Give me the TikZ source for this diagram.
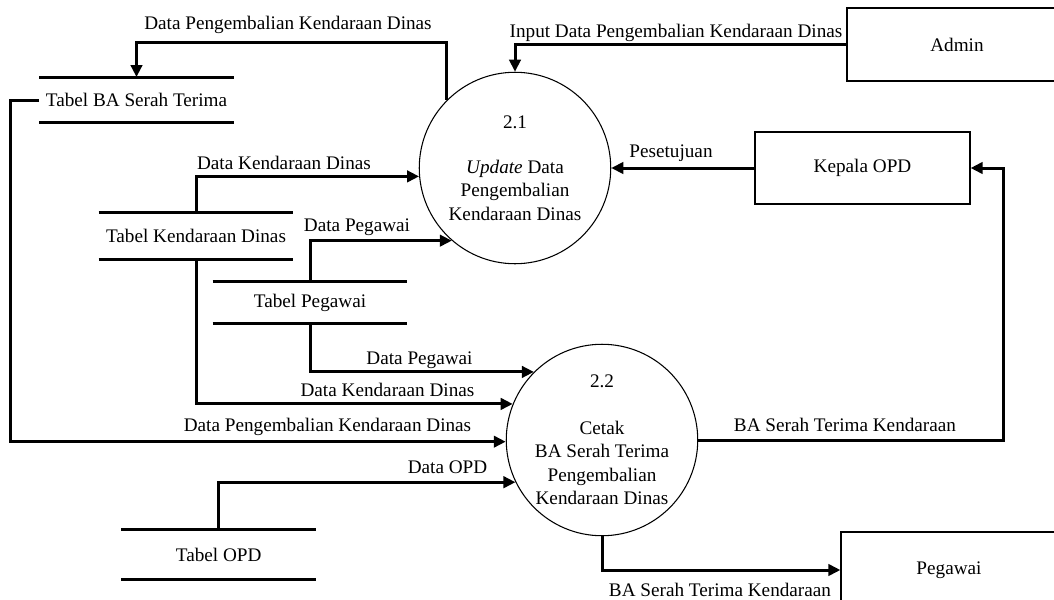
\documentclass[tikz,border=0pt]{standalone}
\usepackage{fontspec}
\setmainfont{Liberation Serif}
\usetikzlibrary{arrows.meta}
\begin{document}
\begin{tikzpicture}[x=0.75pt,y=-0.75pt,
  every node/.style={font=\fontsize{14.4pt}{17.6pt}\selectfont},
  flow/.style={line width=2.25pt, -{Triangle[length=9pt,width=8.5pt]}},
  storeline/.style={line width=2.25pt},
  process/.style={circle, draw, line width=0.8pt, minimum size=143.6pt, inner sep=0pt, align=center},
  entity/.style={rectangle, draw, line width=0.9pt, inner sep=0pt},
  datastore/.style={inner sep=0pt, minimum width=145.5pt},
  flowlabel/.style={inner sep=0pt}]

% canvas
\clip (0,0) rectangle (1054,600);
\fill[white] (0,0) rectangle (1054,600);

% processes
\node[process] (p21) at (515,168)
  {2.1\\[16pt]\textit{Update} Data\\Pengembalian\\Kendaraan Dinas};
\node[process] (p22) at (602,440)
  {2.2\\[17.5pt]Cetak\\BA Serah Terima\\Pengembalian\\Kendaraan Dinas};

% external entities
\node[entity, minimum width=165pt, minimum height=54.75pt] (admin) at (957,44.5) {Admin};
\node[entity, minimum width=161.25pt, minimum height=54pt] (kepala) at (862.5,168) {Kepala OPD};
\node[entity, minimum width=162pt, minimum height=57pt] (pegawai) at (949,570) {Pegawai};

% data stores
\node[datastore, minimum height=34pt] (tba) at (136.5,100) {Tabel BA Serah Terima};
\node[datastore, minimum height=34.5pt] (tkd) at (196,236) {Tabel Kendaraan Dinas};
\node[datastore, minimum height=30.75pt] (tpg) at (310,302.5) {Tabel Pegawai};
\node[datastore, minimum height=37pt] (topd) at (218.7,554.7) {Tabel OPD};
\foreach \s in {tba,tkd,tpg,topd}
  \draw[storeline] (\s.north west) -- (\s.north east)
                   (\s.south west) -- (\s.south east);

% bend points
\coordinate (t1) at (136.5,42.7);
\coordinate (c2) at (10,100);
\coordinate (c3) at (1003.5,440);

% data flows
\draw[flow] (p21.135) |- (t1) -- (tba.north);
\draw[flow] (admin.west) -| (p21.north);
\draw[flow] (kepala.west) -- (p21.east);
\draw[flow] (tkd.north) |- (p21.185);
\draw[flow] (tpg.north) |- (p21.229);
\draw[flow] (tpg.south) |- (p22.135);
\draw[flow] (tkd.south) |- (p22.158.6);
\draw[flow] (tba.west) -- (c2) |- (p22.181);
\draw[flow] (topd.north) |- (p22.206);
\draw[flow] (p22.east) -- (c3) |- (kepala.east);
\draw[flow] (p22.south) |- (pegawai.west);

% flow labels
\node[flowlabel] (l1) at (288,25) {Data Pengembalian Kendaraan Dinas};
\node[flowlabel] (l2) at (676,33) {Input Data Pengembalian Kendaraan Dinas};
\node[flowlabel] (l3) at (671,153) {Pesetujuan};
\node[flowlabel] (l4) at (284,163) {Data Kendaraan Dinas};
\node[flowlabel] (l5) at (357,227) {Data Pegawai};
\node[flowlabel] (l6) at (419.5,360) {Data Pegawai};
\node[flowlabel] (l7) at (387.5,390) {Data Kendaraan Dinas};
\node[flowlabel] (l8) at (327.5,427) {Data Pengembalian Kendaraan Dinas};
\node[flowlabel] (l9) at (447.5,467) {Data OPD};
\node[flowlabel] (l10) at (845,425) {BA Serah Terima Kendaraan};
\node[flowlabel] (l11) at (720,590) {BA Serah Terima Kendaraan};
\end{tikzpicture}
\end{document}
